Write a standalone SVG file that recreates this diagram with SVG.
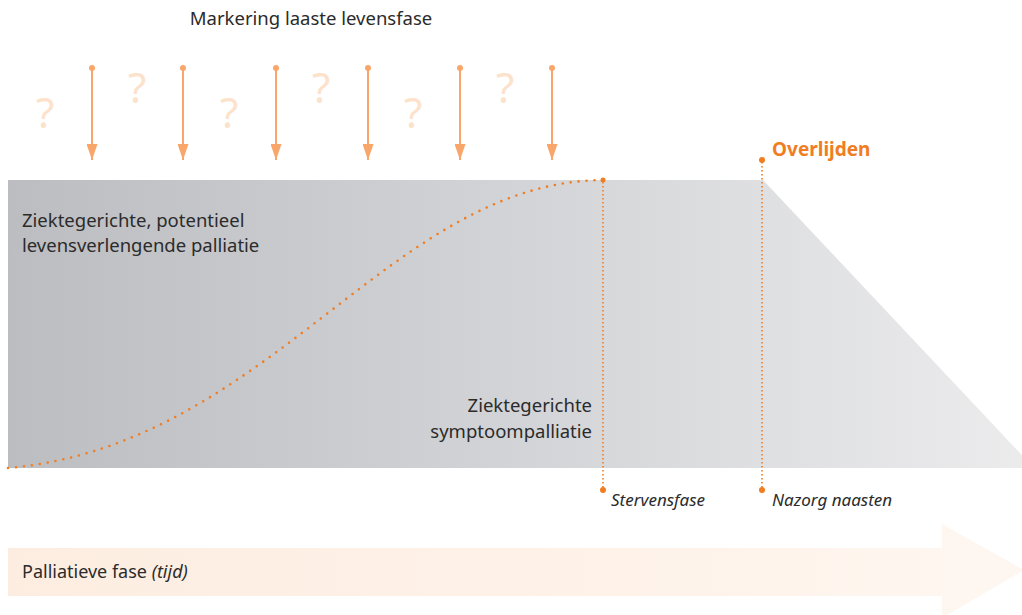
<svg xmlns="http://www.w3.org/2000/svg" width="1022" height="615" viewBox="0 0 1022 615">
<defs>
<linearGradient id="gray" x1="0" y1="0" x2="1" y2="0" gradientUnits="objectBoundingBox">
<stop offset="0" stop-color="#bcbdc1"/>
<stop offset="0.5" stop-color="#d3d4d7"/>
<stop offset="1" stop-color="#ececed"/>
</linearGradient>
<linearGradient id="peach" x1="0" y1="0" x2="1" y2="0">
<stop offset="0" stop-color="#fdede1"/>
<stop offset="0.6" stop-color="#fef2e9"/>
<stop offset="1" stop-color="#fef7f1"/>
</linearGradient>
<marker id="ah" markerWidth="16" markerHeight="11" refX="16" refY="5.5" orient="auto" markerUnits="userSpaceOnUse" viewBox="0 0 16 11">
<path d="M0,0 L16,5.5 L0,11 Z" fill="#f9a66b"/>
</marker>
<style>
.t{font-family:"Noto Sans","Open Sans",sans-serif;fill:#2b2b2b}
.q{font-family:"Noto Sans","Open Sans",sans-serif;fill:#fde2cb;font-size:42px;text-anchor:middle}
.mk{stroke:#f9a66b;stroke-width:2;fill:none}
.dot{fill:#f9a66b}
.od{stroke:#f07d22;stroke-width:1.6;stroke-dasharray:1.5 2.5;fill:none}
.of{fill:#f07d22}
</style>
</defs>
<g id="band">
<polygon points="8,180 763,180 1034,468 8,468" fill="url(#gray)"/>
</g>
<g id="time-arrow">
<polygon points="8,548 942,548 942,524 1024,570 942,618 942,596 8,596" fill="url(#peach)"/>
<text class="t" x="22" y="578" font-size="18">Palliatieve fase <tspan font-style="italic">(tijd)</tspan></text>
</g>
<g id="title">
<text class="t" x="311" y="25" font-size="18.5" text-anchor="middle">Markering laaste levensfase</text>
</g>
<g id="questions">
<text class="q" x="45" y="128">?</text>
<text class="q" x="137" y="103">?</text>
<text class="q" x="229" y="128">?</text>
<text class="q" x="321" y="103">?</text>
<text class="q" x="413" y="128">?</text>
<text class="q" x="505" y="103">?</text>
</g>
<g id="markers">
<circle class="dot" cx="92" cy="68" r="3"/><line class="mk" x1="92" y1="68" x2="92" y2="160" marker-end="url(#ah)"/>
<circle class="dot" cx="183" cy="68" r="3"/><line class="mk" x1="183" y1="68" x2="183" y2="160" marker-end="url(#ah)"/>
<circle class="dot" cx="276" cy="68" r="3"/><line class="mk" x1="276" y1="68" x2="276" y2="160" marker-end="url(#ah)"/>
<circle class="dot" cx="368" cy="68" r="3"/><line class="mk" x1="368" y1="68" x2="368" y2="160" marker-end="url(#ah)"/>
<circle class="dot" cx="460" cy="68" r="3"/><line class="mk" x1="460" y1="68" x2="460" y2="160" marker-end="url(#ah)"/>
<circle class="dot" cx="552" cy="68" r="3"/><line class="mk" x1="552" y1="68" x2="552" y2="160" marker-end="url(#ah)"/>
</g>
<g id="connectors">
<path d="M8,468 C270,445 390,182 603,180" fill="none" stroke="#f07d22" stroke-width="2.6" stroke-linecap="round" stroke-dasharray="0 8"/>
<circle class="of" cx="603" cy="180" r="2.5"/>
<line class="od" x1="603" y1="182" x2="603" y2="488"/>
<circle class="of" cx="603" cy="490" r="3"/>
<line class="od" x1="762" y1="162" x2="762" y2="488"/>
<circle class="of" cx="762" cy="160" r="3"/>
<circle class="of" cx="762" cy="490" r="3"/>
</g>
<g id="label-left">
<text class="t" x="22" y="227" font-size="18.5">Ziektegerichte, potentieel</text>
<text class="t" x="22" y="252" font-size="18.5">levensverlengende palliatie</text>
</g>
<g id="label-symptom">
<text class="t" x="592" y="412" font-size="18.5" text-anchor="end">Ziektegerichte</text>
<text class="t" x="592" y="438" font-size="18.5" text-anchor="end">symptoompalliatie</text>
</g>
<g id="overlijden">
<text x="772" y="156" font-family="'Noto Sans','Open Sans',sans-serif" font-size="19" font-weight="bold" fill="#f07d22">Overlijden</text>
</g>
<g id="stervensfase">
<text class="t" x="611" y="506" font-size="17" font-style="italic">Stervensfase</text>
</g>
<g id="nazorg">
<text class="t" x="772" y="506" font-size="17" font-style="italic">Nazorg naasten</text>
</g>
</svg>
